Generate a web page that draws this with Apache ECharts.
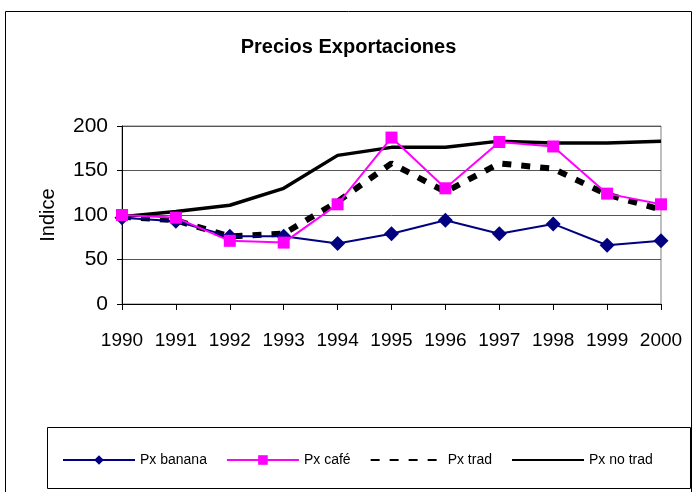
<!DOCTYPE html>
<html>
<head>
<meta charset="utf-8">
<script src="https://cdn.jsdelivr.net/npm/echarts@6/dist/echarts.min.js"></script>
<style>
  html, body { margin: 0; padding: 0; background: #fff; }
  #chart { width: 697px; height: 492px; }
</style>
</head>
<body>
<div id="chart"></div>
<script>
// Valeurs (indice, base 1990 ≈ 100)
const years = ['1990', '1991', '1992', '1993', '1994', '1995', '1996', '1997', '1998', '1999', '2000'];
const pxBanana = [97, 93, 76, 76, 68, 79, 94, 79, 90, 66, 71];
const pxCafe = [100, 97, 71, 69, 112, 187, 130, 182, 177, 124, 112];
const pxTrad = [98, 94, 76, 79, 115, 158, 126, 158, 152, 123, 106];
const pxNoTrad = [98, 104, 111, 130, 167, 176, 176, 183, 181, 181, 183];

const FONT = '"Liberation Sans", Arial, sans-serif';
const NOSYM = 'rgba(0,0,0,0)'; // pas de marqueur dans la légende pour les séries sans symbole

const chart = echarts.init(document.getElementById('chart'), null, { renderer: 'canvas' });

chart.setOption({
  backgroundColor: '#fff',
  animation: false,
  textStyle: { fontFamily: FONT, color: '#000' },
  title: {
    text: 'Precios Exportaciones',
    left: 'center',
    top: 32,
    textStyle: { fontFamily: FONT, fontSize: 20, fontWeight: 'bold', color: '#000' },
  },
  graphic: [
    // cadre extérieur du graphique
    { type: 'rect', shape: { x: 5.5, y: 11.5, width: 686, height: 490 }, style: { fill: 'none', stroke: '#000', lineWidth: 1 } },
    // cadre de la légende
    { type: 'rect', shape: { x: 47.5, y: 427.5, width: 643, height: 61 }, style: { fill: 'none', stroke: '#000', lineWidth: 1 } },
  ],
  grid: { left: 122, right: 36, top: 126, bottom: 188, show: true, borderColor: '#808080', borderWidth: 1 },
  xAxis: {
    type: 'category',
    data: years,
    boundaryGap: false,
    axisLine: { lineStyle: { color: '#000', width: 1 } },
    axisTick: { show: true, length: 6, interval: 0, lineStyle: { color: '#000' } },
    axisLabel: { fontFamily: FONT, fontSize: 19, color: '#000', margin: 27, interval: 0 },
  },
  yAxis: {
    type: 'value',
    min: 0, max: 200, interval: 50,
    name: 'Indice',
    nameLocation: 'middle',
    nameGap: 64,
    nameRotate: 90,
    nameTextStyle: { fontFamily: FONT, fontSize: 20, color: '#000' },
    axisLine: { show: true, lineStyle: { color: '#000', width: 1 } },
    axisTick: { show: true, length: 5, lineStyle: { color: '#000' } },
    axisLabel: { fontFamily: FONT, fontSize: 21, color: '#000', margin: 14 },
    splitLine: { lineStyle: { color: '#555', width: 1 } },
  },
  legend: {
    left: 57,
    top: 448,
    itemWidth: 72,
    itemHeight: 12,
    itemGap: 19,
    textStyle: { fontFamily: FONT, fontSize: 14, color: '#000' },
    data: ['Px banana', 'Px café', 'Px trad', 'Px no trad'],
  },
  series: [
    {
      name: 'Px banana', type: 'line', data: pxBanana,
      symbol: 'diamond', symbolSize: 15, z: 4,
      lineStyle: { color: '#000080', width: 2 },
      itemStyle: { color: '#000080' },
    },
    {
      name: 'Px café', type: 'line', data: pxCafe,
      symbol: 'rect', symbolSize: 12, z: 5,
      lineStyle: { color: '#ff00ff', width: 2 },
      itemStyle: { color: '#ff00ff' },
    },
    {
      name: 'Px trad', type: 'line', data: pxTrad,
      symbol: 'none', z: 3,
      lineStyle: { color: '#000', width: 6, type: [9, 10] },
      itemStyle: { color: NOSYM },
    },
    {
      name: 'Px no trad', type: 'line', data: pxNoTrad,
      symbol: 'none', z: 3,
      lineStyle: { color: '#000', width: 3.5 },
      itemStyle: { color: NOSYM },
    },
  ],
});
</script>
</body>
</html>
